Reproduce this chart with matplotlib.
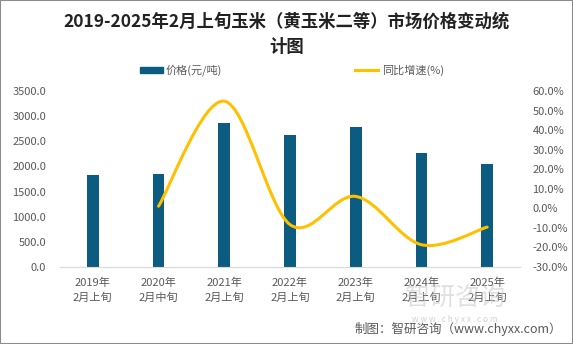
import numpy as np
import matplotlib.pyplot as plt
from matplotlib.path import Path
from matplotlib.patches import PathPatch, Rectangle
from matplotlib.lines import Line2D

plt.rcParams['font.family'] = ['Noto Sans CJK SC', 'DejaVu Sans']

# 数据
categories = ['2019年\n2月上旬', '2020年\n2月中旬', '2021年\n2月上旬', '2022年\n2月上旬',
              '2023年\n2月上旬', '2024年\n2月上旬', '2025年\n2月上旬']
price = [1829, 1849, 2863, 2624, 2783, 2266, 2048]
growth = [None, 1.1, 54.8, -8.3, 6.1, -18.6, -9.6]

bar_color = '#0b5c80'
line_color = '#FFC000'
text_color = '#595959'

fig = plt.figure(figsize=(5.73, 3.44), dpi=100)
ax = fig.add_axes([60 / 573, 1 - 267 / 344, 460 / 573, 176 / 344])
ax2 = ax.twinx()

x = np.arange(len(categories))
ax.bar(x, price, width=0.18, color=bar_color, zorder=2)
ax.set_xlim(-0.5, len(categories) - 0.5)
ax.set_ylim(0, 3500)
ax.set_yticks(np.arange(0, 3501, 500))
ax.set_yticklabels(['%.1f' % v for v in np.arange(0, 3501, 500)])
ax.set_xticks(x)
ax.set_xticklabels(categories, fontsize=9.5, color=text_color, linespacing=1.45)

ax2.set_ylim(-30, 60)
ax2.set_yticks(np.arange(-30, 61, 10))
ax2.set_yticklabels(['%.1f%%' % v for v in np.arange(-30, 61, 10)])

for a in (ax, ax2):
    for s in a.spines.values():
        s.set_visible(False)
    a.tick_params(length=0, labelsize=8, labelcolor=text_color)
ax.spines['bottom'].set_visible(True)
ax.spines['bottom'].set_color('#d9d9d9')
ax.tick_params(axis='y', pad=10)
ax2.tick_params(axis='y', pad=9)
ax.tick_params(axis='x', pad=8)

# 平滑曲线（贝塞尔）
px = [xi for xi, g in zip(x, growth) if g is not None]
py = [g for g in growth if g is not None]
verts = [(px[0], py[0])]
codes = [Path.MOVETO]
t = 1 / 6
for i in range(len(px) - 1):
    x0, y0 = (px[i - 1], py[i - 1]) if i > 0 else (px[i], py[i])
    x1, y1 = px[i], py[i]
    x2, y2 = px[i + 1], py[i + 1]
    x3, y3 = (px[i + 2], py[i + 2]) if i + 2 < len(px) else (x2, y2)
    verts += [(x1 + (x2 - x0) * t, y1 + (y2 - y0) * t),
              (x2 - (x3 - x1) * t, y2 - (y3 - y1) * t),
              (x2, y2)]
    codes += [Path.CURVE4] * 3
ax2.add_patch(PathPatch(Path(verts, codes), facecolor='none', edgecolor=line_color,
                        lw=2.2, capstyle='round', zorder=3))

# 标题
fig.text(0.5, 1 - 22 / 344, '2019-2025年2月上旬玉米（黄玉米二等）市场价格变动统',
         ha='center', va='center', fontsize=12.5, fontweight='bold', color='#222222')
fig.text(0.5, 1 - 47 / 344, '计图', ha='center', va='center', fontsize=12.5,
         fontweight='bold', color='#222222')

# 图例
fig.patches.append(Rectangle((140 / 573, 1 - 73 / 344), 23 / 573, 6 / 344,
                             transform=fig.transFigure, color=bar_color))
fig.text(166 / 573, 1 - 70 / 344, '价格(元/吨)', ha='left', va='center', fontsize=8, color=text_color)
fig.lines.append(Line2D([355 / 573, 378 / 573], [1 - 70 / 344] * 2, transform=fig.transFigure,
                        color=line_color, lw=2.2))
fig.text(382 / 573, 1 - 70 / 344, '同比增速(%)', ha='left', va='center', fontsize=8, color=text_color)

# 水印与来源
fig.text(455 / 573, 1 - 298 / 344, '智研咨询', ha='center', va='center', fontsize=18,
         color='#c8c8c8', alpha=0.55, zorder=0)
fig.text(455 / 573, 1 - 319 / 344, 'w w w . c h y x x . c o m', ha='center', va='center',
         fontsize=6, color='#c8c8c8', alpha=0.8, zorder=0)
fig.text(562 / 573, 1 - 329 / 344, '制图：智研咨询（www.chyxx.com）', ha='right', va='center',
         fontsize=9, color=text_color)

fig.patches.append(Rectangle((0, 0), 1, 1, transform=fig.transFigure, fill=False,
                             edgecolor='#8c8c8c', lw=1.5))

fig.savefig('out.png', dpi=100)
